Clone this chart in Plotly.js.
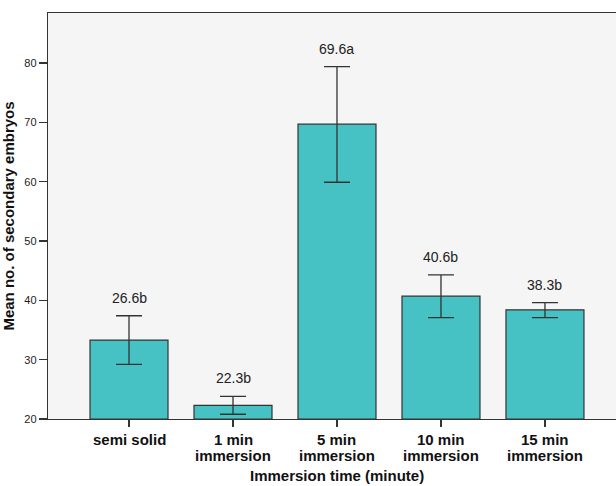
<!DOCTYPE html>
<html>
<head>
<meta charset="utf-8">
<script src="https://cdn.plot.ly/plotly-3.0.1.min.js"></script>
<style>html,body{margin:0;padding:0;background:#fff;}#chart{width:616px;height:486px;}</style>
</head>
<body>
<div id="chart"></div>
<script>
// Data
const categories = ["semi solid", "1 min immersion", "5 min immersion", "10 min immersion", "15 min immersion"];
const tickLine1 = ["semi solid", "1 min", "5 min", "10 min", "15 min"];
const tickLine2 = ["", "immersion", "immersion", "immersion", "immersion"];
const means = [33.3, 22.3, 69.7, 40.7, 38.4];
const errUpper = [4.1, 1.5, 9.7, 3.6, 1.2];
const errLower = [4.1, 1.5, 9.8, 3.6, 1.3];
const labels = ["26.6b", "22.3b", "69.6a", "40.6b", "38.3b"];
const yTicks = [20, 30, 40, 50, 60, 70, 80];
const yBase = 20;
const xTitle = "Immersion time (minute)";
const yTitle = "Mean no. of secondary embryos";

const FONT = "Liberation Sans, Arial, Helvetica, sans-serif";
const boldFont = { family: FONT, size: 15, color: "#111111", weight: "bold" };

const trace = {
  type: "bar",
  x: categories,
  y: means.map(v => v - yBase),
  base: yBase,
  width: 0.75,
  marker: { color: "#47c2c4", line: { color: "#333333", width: 1.2 } },
  error_y: {
    type: "data", symmetric: false,
    array: errUpper, arrayminus: errLower,
    color: "#333333", thickness: 1.3, width: 13
  },
  hoverinfo: "none"
};

const annotations = [];
categories.forEach((c, i) => {
  annotations.push({
    x: c, y: means[i] + errUpper[i], xref: "x", yref: "y",
    text: labels[i], showarrow: false, yanchor: "bottom", yshift: 8,
    font: { family: FONT, size: 14, color: "#222222" }
  });
  annotations.push({
    x: c, y: 0, xref: "x", yref: "paper",
    text: tickLine1[i], showarrow: false, yanchor: "top", yshift: -10,
    font: boldFont
  });
  if (tickLine2[i]) {
    annotations.push({
      x: c, y: 0, xref: "x", yref: "paper",
      text: tickLine2[i], showarrow: false, yanchor: "top", yshift: -25.6,
      font: boldFont
    });
  }
});
// x-axis title, centred under the middle category
annotations.push({
  x: categories[2], y: 0, xref: "x", yref: "paper",
  text: xTitle, showarrow: false, yanchor: "middle", yshift: -56.5,
  font: boldFont
});

const layout = {
  width: 616, height: 486,
  margin: { l: 48, r: 0, t: 13, b: 67 },
  paper_bgcolor: "#ffffff",
  plot_bgcolor: "#f5f5f5",
  showlegend: false,
  xaxis: {
    type: "category",
    range: [-0.779, 4.683],
    showline: true, linecolor: "#333333", linewidth: 1.2, mirror: true,
    ticks: "outside", ticklen: 7, tickcolor: "#333333", tickwidth: 1.2,
    showticklabels: false,
    showgrid: false, zeroline: false
  },
  yaxis: {
    range: [20, 88.43],
    tickvals: yTicks,
    ticktext: yTicks.map(String),
    showline: true, linecolor: "#333333", linewidth: 1.2,
    ticks: "outside", ticklen: 8, tickcolor: "#333333", tickwidth: 1.2,
    showgrid: false, zeroline: false,
    tickfont: { family: FONT, size: 11, color: "#222222" },
    title: { text: yTitle, font: boldFont, standoff: 6 }
  },
  annotations: annotations
};

Plotly.newPlot("chart", [trace], layout, { staticPlot: true, displayModeBar: false });
</script>
</body>
</html>
